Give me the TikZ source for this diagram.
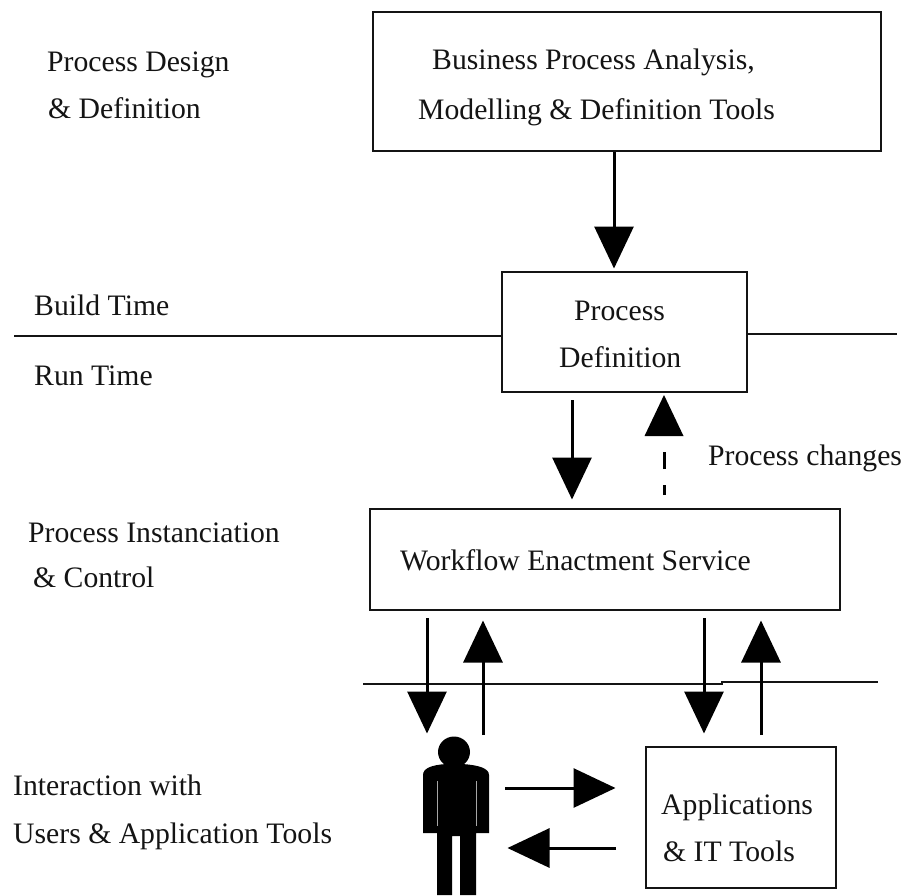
\documentclass[tikz,border=0pt]{standalone}
\usepackage{fontspec}
\setmainfont{Liberation Serif}
\usetikzlibrary{arrows.meta}
\definecolor{inkc}{HTML}{141414}
\tikzset{
  x=1pt,y=-1pt,
  boxn/.style={draw=inkc,line width=1.5pt,rectangle,inner sep=0pt,anchor=north west},
  lbl/.style={anchor=base west,inner sep=0pt,text=inkc,font=\fontsize{29.7}{32}\selectfont},
  rule/.style={draw=inkc,line width=1.3pt},
  flow/.style={draw=black,line width=3pt,-{Triangle[width=39pt,length=42pt]},shorten >=-0.5pt},
  headonly/.style={fill=black,draw=none},
  dashseg/.style={draw=black,line width=3pt}
}
\begin{document}
\begin{tikzpicture}
\useasboundingbox (0,0) rectangle (904,895);
\fill[white] (0,0) rectangle (904,895);

% boxes
\node[boxn,minimum width=508pt,minimum height=139pt] (bpa) at (372,11) {};
\node[boxn,minimum width=245pt,minimum height=120pt] (pd) at (501,271) {};
\node[boxn,minimum width=470pt,minimum height=101pt] (wes) at (369,508) {};
\node[boxn,minimum width=190pt,minimum height=141pt] (app) at (645,746) {};

% text
\node[lbl] (t1) at (47,71) {Process Design};
\node[lbl] (t2) at (48,118) {\& Definition};
\node[lbl] (t3) at (432,69) {Business Process Analysis,};
\node[lbl] (t4) at (418,119.5) {Modelling \& Definition Tools};
\node[lbl] (t5) at (34,315) {Build Time};
\node[lbl] (t6) at (34,385) {Run Time};
\node[lbl] (t7) at (574,320) {Process};
\node[lbl] (t8) at (559,367) {Definition};
\node[lbl] (t9) at (708,465) {Process changes};
\node[lbl] (t10) at (28,542) {Process Instanciation};
\node[lbl] (t11) at (33,587) {\& Control};
\node[lbl] (t12) at (400,570) {Workflow Enactment Service};
\node[lbl] (t13) at (13,795) {Interaction with};
\node[lbl] (t14) at (13,843) {Users \& Application Tools};
\node[lbl] (t15) at (661,814) {Applications};
\node[lbl] (t16) at (663,861) {\& IT Tools};

% time rules
\coordinate (bl) at (14,336);
\coordinate (br) at (897,334);
\draw[rule] (bl) -- (bl -| pd.west);
\draw[rule] (br -| pd.east) -- (br);
\coordinate (il) at (363,684);
\coordinate (im) at (722,684);
\coordinate (in2) at (722,682);
\coordinate (ir) at (878,682);
\draw[rule] (il) -- (im) -- (in2) -- (ir);

% arrow ends
\coordinate (a1s) at (614,152);  \coordinate (a1e) at (614,268);
\coordinate (a2s) at (572,400);  \coordinate (a2e) at (572,499);
\coordinate (a3s) at (427,618);  \coordinate (a3e) at (427,733);
\coordinate (a4s) at (483,735);  \coordinate (a4e) at (483,621);
\coordinate (a5s) at (704,618);  \coordinate (a5e) at (704,733);
\coordinate (a6s) at (761,735);  \coordinate (a6e) at (761,621);
\coordinate (a7s) at (505,788);  \coordinate (a7e) at (615,788);
\coordinate (a8s) at (616,848);  \coordinate (a8e) at (508,848);

\draw[flow] (a1s) -- (a1e);
\draw[flow] (a2s) -- (a2e);
\draw[flow] (a3s) -- (a3e);
\draw[flow] (a4s) -- (a4e);
\draw[flow] (a5s) -- (a5e);
\draw[flow] (a6s) -- (a6e);
\draw[flow] (a7s) -- (a7e);
\draw[flow] (a8s) -- (a8e);

% dashed arrow: process changes
\coordinate (d0) at (664,495);
\coordinate (d1) at (664,485);
\coordinate (d2) at (664,469);
\coordinate (d3) at (664,452);
\coordinate (dh) at (664,395);
\draw[dashseg] (d0) -- (d1);
\draw[dashseg] (d2) -- (d3);
\fill[headonly] (644.5,436) -- (dh) -- (683.5,436) -- cycle;

% person
\fill[black] (454,752) ellipse [x radius=16,y radius=15.5];
\fill[black] (423,775) .. controls (423,768) and (432,765) .. (446,764)
  -- (462,764) .. controls (478,765) and (489,768) .. (489,775)
  -- (489,833) -- (476,833) -- (476,895) -- (460,895) -- (460,836) -- (452,836)
  -- (452,895) -- (437,895) -- (437,833) -- (423,833) -- cycle;
\draw[gray!70,line width=0.8pt] (437,781) -- (437,826);
\draw[gray!70,line width=0.8pt] (476,781) -- (476,826);
\end{tikzpicture}
\end{document}
